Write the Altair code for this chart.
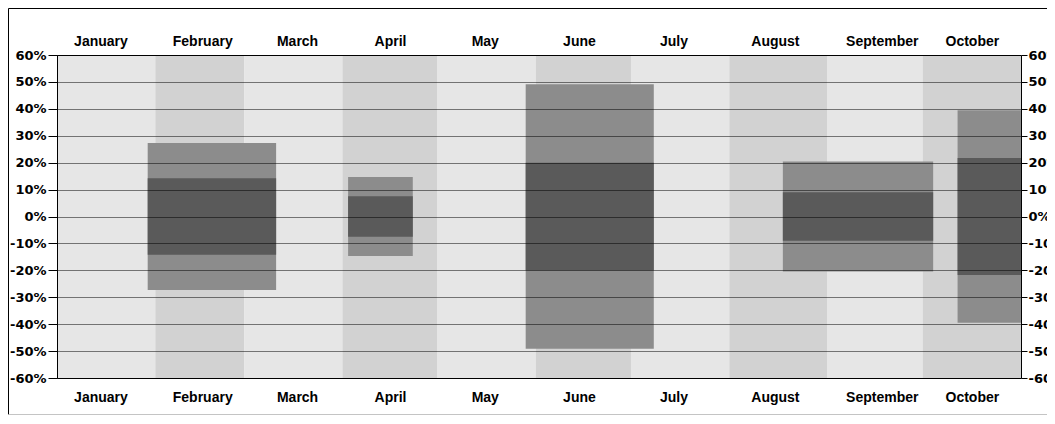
import json
import altair as alt
import pandas as pd

# ---- data ----
months = ["January", "February", "March", "April", "May", "June",
          "July", "August", "September", "October"]
month_days = [31, 28, 31, 30, 31, 30, 31, 31, 30, 31]
# positions (day of year) of the month labels
label_days = [13.7, 45.8, 75.7, 105.0, 134.9, 164.6, 194.4, 226.4, 260.1, 288.5]

box_start = [28.6, 91.8, 147.8, 228.9, 284.0]
box_end = [69.1, 112.2, 188.2, 276.3, 304.0]
outer_hi = [27.3, 14.7, 49.1, 20.45, 39.5]
outer_lo = [-27.3, -14.7, -49.1, -20.45, -39.5]
inner_hi = [14.25, 7.55, 20.0, 9.0, 21.75]
inner_lo = [-14.25, -7.55, -20.0, -9.0, -21.75]

pct_ticks = list(range(-60, 61, 10))

# ---- tables ----
starts, ends, shades = [], [], []
acc = 0
for i, d in enumerate(month_days):
    starts.append(acc)
    acc += d
    ends.append(acc)
    shades.append("light" if i % 2 == 0 else "dark")
bands_df = pd.DataFrame({"month": months, "start": starts, "end": ends, "shade": shades})
total_days = acc

box_df = pd.DataFrame({
    "start": box_start, "end": box_end,
    "outer_hi": outer_hi, "outer_lo": outer_lo,
    "inner_hi": inner_hi, "inner_lo": inner_lo,
})

xs = alt.Scale(domain=[0, total_days], nice=False, zero=False)
ys = alt.Scale(domain=[-60, 60], nice=False, zero=False)

month_expr = f"{json.dumps(months)}[indexof({json.dumps(label_days)}, datum.value)]"

common_x = dict(values=label_days, labelExpr=month_expr, title=None, ticks=False,
                tickSize=0, domainColor="#000000", labelFont="Liberation Sans",
                labelFontSize=14, labelFontWeight="bold", labelColor="#000000",
                grid=False, zindex=1, labelFlush=False, labelOverlap=False)
bottom_axis = alt.Axis(orient="bottom", labelPadding=12, **common_x)
top_axis = alt.Axis(orient="top", labelPadding=7, **common_x)

common_y = dict(values=pct_ticks, labelExpr="datum.value + '%'", title=None,
                tickColor="#000000", domainColor="#000000", labelFont="DejaVu Sans",
                labelFontSize=13, labelFontWeight="bold", labelColor="#000000",
                zindex=1, labelOverlap=False, labelFlush=False)
left_axis = alt.Axis(orient="left", grid=True, gridColor="#000000", gridDash=[1, 1],
                     gridOpacity=1, gridWidth=1, tickSize=9, labelPadding=2, **common_y)
right_axis = alt.Axis(orient="right", grid=False, tickSize=6, labelPadding=1, **common_y)

bands = alt.Chart(bands_df).mark_rect().encode(
    x=alt.X("start:Q", scale=xs, axis=bottom_axis),
    x2="end:Q",
    color=alt.Color("shade:N", scale=alt.Scale(domain=["light", "dark"],
                                               range=["#e6e6e6", "#d2d2d2"]), legend=None),
)

outer = alt.Chart(box_df).mark_rect(color="#8c8c8c").encode(
    x=alt.X("start:Q", scale=xs, axis=top_axis),
    x2="end:Q",
    y=alt.Y("outer_lo:Q", scale=ys, axis=left_axis),
    y2="outer_hi:Q",
)

inner = alt.Chart(box_df).mark_rect(color="#5a5a5a").encode(
    x=alt.X("start:Q", scale=xs, axis=None),
    x2="end:Q",
    y=alt.Y("inner_lo:Q", scale=ys, axis=right_axis),
    y2="inner_hi:Q",
)

frame_df = pd.DataFrame({"k": [0]})
top_border = alt.Chart(frame_df).mark_rule(color="#000000", strokeWidth=1).encode(
    x=alt.value(-48.5), x2=alt.value(1000), y=alt.value(-46.5))
left_border = alt.Chart(frame_df).mark_rule(color="#000000", strokeWidth=1).encode(
    x=alt.value(-48.5), y=alt.value(-46.5), y2=alt.value(359.5))
bottom_border = alt.Chart(frame_df).mark_rule(color="#c4c4c4", strokeWidth=1).encode(
    x=alt.value(-48.5), x2=alt.value(1000), y=alt.value(359.5))

chart = alt.layer(
    bands, outer, inner, top_border, left_border, bottom_border
).resolve_axis(
    x="independent", y="independent"
).properties(
    width=964, height=323,
    autosize=alt.AutoSizeParams(type="none"),
    padding={"left": 49, "top": 47, "right": 26, "bottom": 37},
    background="white",
).configure_view(stroke=None)

chart.save("out.html", embed_options={"renderer": "svg", "actions": False})
